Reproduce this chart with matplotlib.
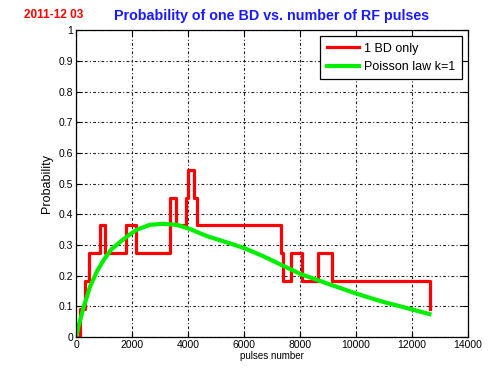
import matplotlib
matplotlib.use("Agg")
import matplotlib.pyplot as plt

plt.rcParams['font.family'] = ['Liberation Sans', 'DejaVu Sans']
plt.rcParams['lines.scale_dashes'] = False

# empirical probability of a single breakdown (step changes)
bd_pulses = [0, 150, 330, 450, 860, 1040, 1770, 2150, 3360, 3580, 3920, 3990,
             4220, 4310, 7310, 7400, 7680, 8070, 8640, 9150, 12650]
bd_prob = [0.0, 0.0909, 0.1818, 0.2727, 0.3636, 0.2727, 0.3636, 0.2727, 0.4545,
           0.3636, 0.4545, 0.5454, 0.4545, 0.3636, 0.2727, 0.1818, 0.2727,
           0.1818, 0.2727, 0.1818, 0.0909]

# Poisson law, k=1
poisson_pulses = [0, 100, 260, 500, 750, 975, 1250, 1570, 1850, 2170, 2640, 3100,
                  3590, 4070, 4670, 5510, 6030, 6720, 7315, 8030, 9115, 10000,
                  10920, 12000, 12620]
poisson_prob = [0.0, 0.04, 0.095, 0.165, 0.215, 0.25, 0.285, 0.31, 0.33, 0.35,
                0.366, 0.369, 0.366, 0.352, 0.329, 0.305, 0.289, 0.262, 0.236,
                0.205, 0.17, 0.142, 0.116, 0.09, 0.075]

x_ticks = [0, 2000, 4000, 6000, 8000, 10000, 12000, 14000]
y_ticks = [0, 0.1, 0.2, 0.3, 0.4, 0.5, 0.6, 0.7, 0.8, 0.9, 1]
y_tick_labels = ['0', '0.1', '0.2', '0.3', '0.4', '0.5', '0.6', '0.7', '0.8', '0.9', '1']

fig = plt.figure(figsize=(4.88, 3.68), dpi=100)
ax = fig.add_axes([0.156, 0.084, 0.803, 0.834])

ax.step(bd_pulses, bd_prob, where='post', color='#ff0000', lw=2.3, label='1 BD only')
ax.plot(poisson_pulses, poisson_prob, color='#00ee00', lw=3.0, label='Poisson law k=1')

ax.set_xlim(0, 14000)
ax.set_ylim(0, 1)
ax.set_xticks(x_ticks)
ax.set_yticks(y_ticks)
ax.set_yticklabels(y_tick_labels)
ax.tick_params(direction='in', top=True, right=True, labelsize=7.5, length=4, pad=2)
ax.grid(True, color='#222222', linestyle=(0, (2, 1.6, 0.8, 1.6)), linewidth=0.8)
for sp in ax.spines.values():
    sp.set_linewidth(0.9)

ax.set_xlabel('pulses number', fontsize=7, labelpad=1)
ax.set_ylabel('Probability', fontsize=9, labelpad=4)
ax.set_title('Probability of one BD vs. number of RF pulses', color='#1a1aff',
             fontsize=10.3, fontweight='bold', pad=7)
fig.text(0.170, 0.958, '2011-12 03', color='#ff0000', fontsize=8.5,
         fontweight='bold', ha='right', va='center')

leg = ax.legend(loc='upper right', fontsize=9, fancybox=False, framealpha=1,
                edgecolor='black', handlelength=2.6, handletextpad=0.4,
                borderpad=0.5, borderaxespad=0.5)
leg.get_frame().set_linewidth(0.9)

fig.savefig('out.png', dpi=100)
